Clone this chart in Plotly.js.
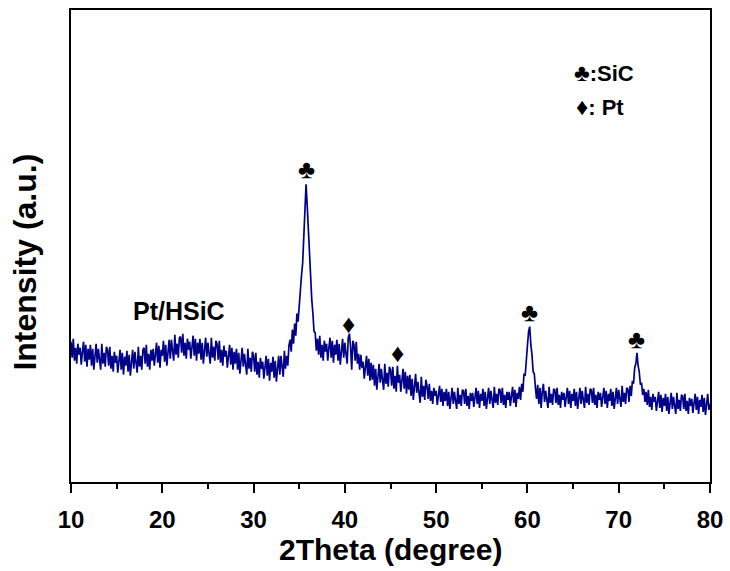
<!DOCTYPE html>
<html>
<head>
<meta charset="utf-8">
<script src="https://cdn.plot.ly/plotly-3.0.1.min.js"></script>
<style>html,body{margin:0;padding:0;background:#fff;}#chart{width:730px;height:571px;}</style>
</head>
<body>
<div id="chart"></div>
<script>
// XRD pattern of Pt/HSiC (2theta from 10 to 80 deg, 0.125 deg sampling)
const thetaStart = 10;
const thetaStep = 0.125;
const intensity = [
  140,124,143,121,134,118,138,127, // 10
  134,117,130,140,120,137,115,133, // 11
  122,137,116,133,112,129,138,119, // 12
  133,122,112,138,118,129,115,135, // 13
  132,116,135,113,126,110,130,119, // 14
  126,109,122,132,112,129,107,125, // 15
  116,131,110,127,106,123,132,113, // 16
  130,119,109,135,115,126,112,132, // 17
  134,118,137,115,128,112,132,121, // 18
  133,116,129,139,119,136,114,132, // 19
  126,141,120,137,116,133,142,123, // 20
  142,131,121,147,127,138,124,144, // 21
  145,129,148,126,139,123,143,132, // 22
  140,123,136,146,126,143,121,139, // 23
  128,143,122,139,118,135,144,125, // 24
  139,128,118,144,124,135,121,141, // 25
  138,122,141,119,132,116,136,125, // 26
  131,114,127,137,117,134,112,130, // 27
  118,133,112,129,108,125,134,115, // 28
  128,117,107,133,113,124,110,130, // 29
  126,110,129,107,120,104,124,113, // 30
  120,103,116,126,106,123,101,119, // 31
  110,125,104,121,100,117,126,107, // 32
  126,115,105,131,113,126,116,136, // 33
  142,130,152,138,158,146,168,160, // 34
  178,186,206,218,246,266,297,276, // 35
  248,220,205,182,168,150,149,131, // 36
  143,127,146,124,137,121,141,130, // 37
  138,121,134,144,124,141,119,137, // 38
  127,142,121,138,117,134,143,124, // 39
  139,128,118,144,148,135,112,141, // 40
  137,121,140,118,128,112,127,114, // 41
  120,103,116,126,106,123,101,119, // 42
  102,117,96,113,92,109,118,99,    // 43
  113,102,92,118,98,109,95,115,    // 44
  112,96,115,93,106,90,116,99,     // 45
  107,90,103,113,93,110,88,106,    // 46
  92,107,86,103,82,99,108,89,      // 47
  100,89,79,105,85,96,82,102,      // 48
  96,83,98,81,91,78,94,86,         // 49
  91,77,88,96,80,93,76,90,         // 50
  81,93,76,90,73,86,94,78,         // 51
  90,81,73,94,78,87,76,92,         // 52
  91,78,93,76,86,73,89,81,         // 53
  89,75,86,94,78,91,74,88,         // 54
  81,93,76,90,73,86,94,78,         // 55
  91,82,74,95,79,88,77,93,         // 56
  92,79,94,77,87,74,90,82,         // 57
  90,76,87,95,79,92,75,89,         // 58
  83,95,82,98,90,108,106,128,      // 59
  136,150,155,137,127,110,108,94,  // 60
  83,97,78,94,74,90,98,80,         // 61
  91,82,74,95,79,88,77,93,         // 62
  92,79,94,77,87,74,90,82,         // 63
  89,75,86,94,78,91,74,88,         // 64
  81,93,76,90,73,86,94,78,         // 65
  91,82,74,95,79,88,77,93,         // 66
  92,79,94,77,87,74,90,82,         // 67
  89,75,86,94,78,91,74,88,         // 68
  81,93,76,90,73,86,94,78,         // 69
  92,83,75,96,80,89,78,94,         // 70
  93,80,96,86,101,98,114,118,      // 71
  129,116,110,97,99,87,93,80,      // 72
  90,77,92,75,85,72,88,80,         // 73
  85,71,82,90,74,87,70,84,         // 74
  76,88,71,85,68,81,89,73,         // 75
  85,76,68,89,73,82,71,87,         // 76
  86,73,88,71,81,68,84,76,         // 77
  83,69,80,88,72,85,68,82,         // 78
  75,87,70,84,67,80,88,72,         // 79
  78                               // 80
];
const twoTheta = intensity.map((_, i) => thetaStart + thetaStep * i);

// Peak labels
const sicPeakX = [35.82, 60.28, 71.97];
const sicMarkY = [312, 170, 143];
const ptPeakX = [40.45, 45.77];
const ptMarkY = [158, 129];

const xTicks = [10, 20, 30, 40, 50, 60, 70, 80];
const xMinorTicks = [15, 25, 35, 45, 55, 65, 75];

const FONT = 'Liberation Sans, Arial, sans-serif';

const trace = {
  x: twoTheta, y: intensity, type: 'scatter', mode: 'lines',
  line: {color: '#00008a', width: 1.7}, hoverinfo: 'skip'
};

const annotations = [];
sicPeakX.forEach((x, i) => annotations.push({
  x: x, y: sicMarkY[i], xref: 'x', yref: 'y', text: '♣', showarrow: false,
  font: {family: FONT, size: 26, color: '#000'}, xanchor: 'center', yanchor: 'middle'
}));
ptPeakX.forEach((x, i) => annotations.push({
  x: x, y: ptMarkY[i], xref: 'x', yref: 'y', text: '♦', showarrow: false,
  font: {family: FONT, size: 26, color: '#000'}, xanchor: 'center', yanchor: 'middle'
}));
annotations.push(
  {x: 64.85, y: 409, xref: 'x', yref: 'y', text: '<b><span style="font-size:24px">♣</span>:SiC</b>', showarrow: false,
   font: {family: FONT, size: 22, color: '#000'}, xanchor: 'left', yanchor: 'middle'},
  {x: 65.1, y: 375, xref: 'x', yref: 'y', text: '<b><span style="font-size:24px">♦</span>: Pt</b>', showarrow: false,
   font: {family: FONT, size: 22, color: '#000'}, xanchor: 'left', yanchor: 'middle'},
  {x: 21.8, y: 171, xref: 'x', yref: 'y', text: '<b>Pt/HSiC</b>', showarrow: false,
   font: {family: FONT, size: 25, color: '#000'}, xanchor: 'center', yanchor: 'middle'},
  {x: 0.5, y: -0.142, xref: 'paper', yref: 'paper', text: '<b>2Theta (degree)</b>', showarrow: false,
   font: {family: FONT, size: 30, color: '#000'}, xanchor: 'center', yanchor: 'middle'},
  {x: -0.072, y: 0.467, xref: 'paper', yref: 'paper', text: '<b>Intensity (a.u.)</b>', showarrow: false,
   textangle: -90, font: {family: FONT, size: 32, color: '#000'}, xanchor: 'center', yanchor: 'middle'}
);

const layout = {
  width: 730, height: 571,
  margin: {l: 71, r: 20, t: 10, b: 89},
  paper_bgcolor: '#fff', plot_bgcolor: '#fff',
  showlegend: false,
  xaxis: {
    range: [10, 80], tickvals: xTicks, ticktext: xTicks.map(String),
    ticks: 'outside', ticklen: 9, tickwidth: 2, tickcolor: '#000',
    ticklabelstandoff: 6,
    showline: true, linewidth: 2, linecolor: '#000', mirror: true,
    showgrid: false, zeroline: false,
    tickfont: {family: FONT, size: 24, color: '#000', weight: 'bold'},
    minor: {tickvals: xMinorTicks, ticks: 'outside', ticklen: 5, tickwidth: 2, tickcolor: '#000', showgrid: false}
  },
  yaxis: {
    range: [0, 471], showticklabels: false, ticks: '',
    showline: true, linewidth: 2, linecolor: '#000', mirror: true,
    showgrid: false, zeroline: false
  },
  annotations: annotations
};

Plotly.newPlot('chart', [trace], layout, {displayModeBar: false, staticPlot: true});
</script>
</body>
</html>
